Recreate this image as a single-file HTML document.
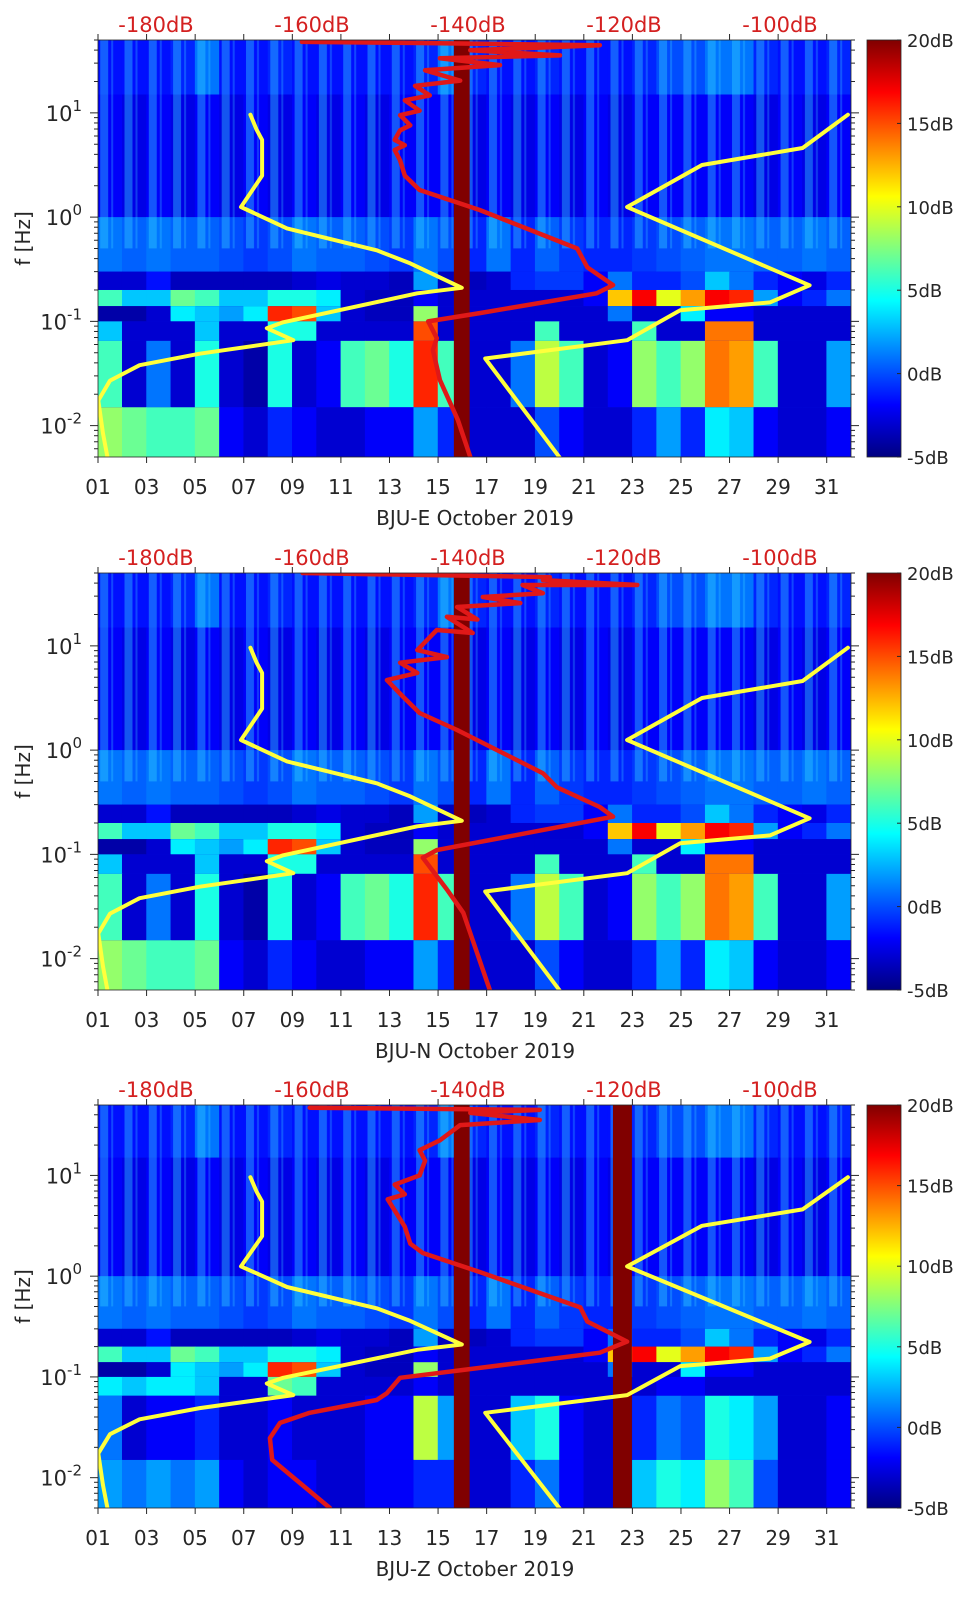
<!DOCTYPE html>
<html><head><meta charset="utf-8">
<style>
html,body{margin:0;padding:0;background:#fff;}
svg{display:block;font-family:"DejaVu Sans","Liberation Sans",sans-serif;}
</style></head>
<body>
<svg id="fig" width="962" height="1599" viewBox="0 0 962 1599" xmlns="http://www.w3.org/2000/svg">
<defs>
<linearGradient id="jetGrad" x1="0" y1="1" x2="0" y2="0">
<stop offset="0" stop-color="#000080"/><stop offset="0.125" stop-color="#0000ff"/>
<stop offset="0.375" stop-color="#00ffff"/><stop offset="0.625" stop-color="#ffff00"/>
<stop offset="0.875" stop-color="#ff0000"/><stop offset="1" stop-color="#800000"/>
</linearGradient>
<pattern id="streaks" patternUnits="userSpaceOnUse" width="24.3" height="10">
<rect x="3" y="0" width="8" height="10" fill="#30d0ff" opacity="0.45"/>
<rect x="14" y="0" width="2" height="10" fill="#40e0ff" opacity="0.3"/>
</pattern>
</defs>
</svg>
<script>
// ---- data ----
const days = [1,2,3,4,5,6,7,8,9,10,11,12,13,14,15,16,17,18,19,20,21,22,23,24,25,26,27,28,29,30,31];
const bandLow  = [1.176, 0, -0.523, -0.699, -0.854, -1, -1.187, -1.824, -2.301]; // log10 f lower edges
const bandHigh = [1.699, 1.176, 0, -0.523, -0.699, -0.854, -1, -1.187, -1.824];
const b1 = [-1.5,-1.5,-1.5,-1,1,-1.5,-1.5,-1,-1.5,-1.5,-1.5,-1.5,-1.5,-1,1,-1,-1.5,-1.5,-1,-1.5,-1.5,-1.5,-1,0,0,1,1,-1,-1.5,-1.5,-1];
const b2 = [-2,-2.5,-2,-2.5,-2,-2.5,-2,-2.5,-2,-2.5,-2,-2.5,-2,-2,-2,-2.5,-2,-2.5,-2,-2.5,-2,-2.5,-2,-2,-2,-2,-2,-2.5,-2,-2.5,-2];
const b3 = [1,0.5,1,0.5,0.5,0,-0.5,0,1,0.5,0.5,0,-0.5,1,0,-1,1,-1,0.5,-0.5,-1,-1,-0.5,0,0.5,1,1,0.5,0.5,1,0.5];
const b4 = [-3,-3,-1.5,-3.5,-3.5,-3.5,-3.5,-3.5,-3,-2.5,-3,-3,-3.5,2,-3.5,-3.5,-3,-1,-0.5,-0.5,-2,1,-1,-1,0,3,1,-1,-2,-2.5,-1];
const b5 = [6,3,3,7,6,3,3,5,5,4,-3,-3.5,-3.5,-2,-3,-3,-3,-3,-3,-3,-2,12,17,10,13,17,16,2,-2,-1,1];
const b6 = [-4,-4,-3,4,3,2,4,16,15,3,-3,-3.5,-3.5,8,-3,-3,-3,-3,-3,-3,-3,1,-3,-3,4,-2,-2,-3,-3,-3,-3];
const b7 = [3,-3,-3,-3,3,-3,-3,5,5,-3,-3,-3,-3,15,-3,-3,-3,-3,6,-3,-3,-3,6,-3,-3,14,14,-3,-3,-3,-3];
const b8 = [6,-3,1,-3,5,-3,-4,5,-3,-2,6,7,5,16,6,-3,-3,1,9,6,-3,-2,8,6,8,14,13,6,-3,-3,2];
const b9 = [8,7,6,6,7,-2,-3,-1,-2,-3,-3,-2,-2,2,-1,-3,-3,-3,0,-2,-3,-3,-1,2,-1,4,3,-2,-3,-3,-2];
const z7 = [4,3,4,4,3,-3,-3,7,6,-3,-3,-3,-3,-2,-3,-3,-3,-3,-3,-3,-3,-3,-3,-2,-2,-3,-3,-3,-3,-3,-3];
const z8 = [1,-3,-2,-2,-1,-3,-3,-2,-3,-3,-3,-2,-2,9,2,-3,-3,3,5,-2,-3,-3,-1,1,0,5,4,2,-3,-3,-2];
const z9 = [2,1,2,1,2,-2,-3,-2,-2,-3,-3,-2,-2,-1,-1,-3,-3,-1,1,-2,-3,-3,3,5,4,8,6,0,-3,-3,-2];
const gapsEN = [[15.65,16.3]];
const gapsZ  = [[15.65,16.3],[22.2,22.98]];
// noise models: frequency (Hz) and power (dB)
const nlnmF  = [9.6,6.9,5.5,2.5,1.25,0.78,0.48,0.36,0.21,0.186,0.098,0.086,0.066,0.049,0.038,0.027,0.0174,0.0084,0.0049];
const nlnmDB = [-167.9,-167.1,-166.4,-166.4,-169.1,-163.2,-151.7,-147.4,-140.8,-146.5,-163.7,-165.8,-162.4,-174.4,-182.1,-185.9,-187.4,-186.8,-186.2];
const nhnmF  = [9.6,4.6,3.16,1.25,0.222,0.152,0.128,0.066,0.044,0.0049];
const nhnmDB = [-91.3,-97.1,-110.0,-119.6,-96.2,-101.3,-112.8,-119.6,-137.8,-128.2];
// station PSD curves
const psdEF  = [0.005,0.0113,0.0274,0.053,0.069,0.1,0.12,0.186,0.223,0.33,0.5,1.17,1.82,2.5,3.5,4.4,4.9,5.5,6.8,7.6,9.5,10.5,13.2,14.7,18.2,20.4,25.6,28.7,33.4,35.6,39.8,44.6,46.8,47.9];
const psdEDB = [-139.7,-141.3,-143.6,-144.5,-144.0,-145.1,-138.5,-123.5,-121.4,-124.7,-126.0,-138.5,-146.2,-148.1,-148.7,-149.4,-148.1,-149.4,-148.7,-147.4,-148.7,-146.2,-148.1,-144.9,-146.8,-141.0,-145.5,-135.9,-143.6,-128.2,-139.7,-123.1,-146.2,-161.3];
const psdNF  = [0.005,0.0275,0.046,0.093,0.11,0.23,0.285,0.44,0.60,1.56,2.27,3.23,4.7,5.5,6.9,7.8,9.1,14.2,13.3,19,17.9,23.6,25.7,29.4,32,38.4,38.4,42.7,45.7,50];
const psdNDB = [-137.2,-140.6,-142.7,-145.8,-144.0,-121.4,-123.1,-128.6,-130.4,-141.4,-146.2,-148.3,-150.4,-146.5,-148.7,-142.7,-146.5,-144.0,-139.4,-142.7,-138.8,-141.4,-133.3,-138.1,-130.4,-133.0,-118.3,-130.4,-129.5,-161.2];
const psdZF  = [0.005,0.015,0.0247,0.035,0.044,0.059,0.069,0.098,0.123,0.174,0.224,0.355,0.49,1.1,1.7,2.1,3.1,5.8,6.5,8.1,10,14,17.8,22.3,31.6,35.5,41.7,44.7,47];
const psdZDB = [-157.7,-165.1,-165.4,-164.1,-160.3,-151.7,-150.4,-148.7,-138.5,-123.1,-119.6,-124.7,-125.6,-138.5,-145.8,-147.4,-148.1,-150.3,-148.1,-149.4,-146.2,-145.5,-146.2,-143.6,-141.0,-130.8,-139.7,-130.8,-160.3];
const dbTicks = [-180,-160,-140,-120,-100];
const dayTicks = [1,3,5,7,9,11,13,15,17,19,21,23,25,27,29,31];
const cbTicks = [20,15,10,5,0,-5];
const titles = ["BJU-E October 2019","BJU-N October 2019","BJU-Z October 2019"];

// ---- layout ----
const NS = "http://www.w3.org/2000/svg";
const svg = document.getElementById('fig');
const PL = 98, PR = 851, CBX = 867, CBW = 34;
const panels = [
  {top:40, h:417, bands:[b1,b2,b3,b4,b5,b6,b7,b8,b9], gaps:gapsEN, pf:psdEF, pd:psdEDB},
  {top:573, h:417, bands:[b1,b2,b3,b4,b5,b6,b7,b8,b9], gaps:gapsEN, pf:psdNF, pd:psdNDB},
  {top:1105, h:403, bands:[b1,b2,b3,b4,b5,b6,z7,z8,z9], gaps:gapsZ, pf:psdZF, pd:psdZDB}
];
const LOGTOP = Math.log10(50), LOGBOT = Math.log10(0.005);
function xDay(d){ return PL + (d-1)*(PR-PL)/31; }
function xDB(db){ return 156 + (db+180)*7.8; }
function yLog(p,lf){ return p.top + (LOGTOP-lf)/(LOGTOP-LOGBOT)*p.h; }
function yF(p,f){ return yLog(p, Math.log10(f)); }
function jet(v){
  let t=(v+5)/25; t=Math.max(0,Math.min(1,t));
  const c=x=>Math.round(255*Math.max(0,Math.min(1,x)));
  return `rgb(${c(1.5-Math.abs(4*t-3))},${c(1.5-Math.abs(4*t-2))},${c(1.5-Math.abs(4*t-1))})`;
}
function mk(tag, attrs, parent){
  const e=document.createElementNS(NS,tag);
  for(const k in attrs) e.setAttribute(k,attrs[k]);
  (parent||svg).appendChild(e); return e;
}
function txt(s, attrs, parent){ const e=mk('text',attrs,parent); e.textContent=s; return e; }

panels.forEach((p,pi)=>{
  const g = mk('g',{});
  
  
  const clipId='clip'+pi;
  const cp=mk('clipPath',{id:clipId},g); mk('rect',{x:PL,y:p.top,width:PR-PL,height:p.h},cp);
  const hm = mk('g',{'clip-path':`url(#${clipId})`},g);
  
  
  mk('rect',{x:PL,y:p.top,width:PR-PL,height:p.h,fill:'#0010e0'},hm);
  p.bands.forEach((arr,bi)=>{
    const y1=yLog(p,bandHigh[bi]), y2=yLog(p,bandLow[bi]);
    days.forEach((d,di)=>{
      const r=mk('rect',{x:xDay(d)-0.3,y:y1,width:(PR-PL)/31+0.6,height:y2-y1,fill:jet(arr[di])},hm);
      
      
    });
  });
  const sy1=yLog(p,LOGTOP), sy2=yLog(p,-0.3);
  mk('rect',{x:PL,y:sy1,width:PR-PL,height:sy2-sy1,fill:'url(#streaks)',opacity:0.9},hm);
  p.gaps.forEach(gp=>{
    const r=mk('rect',{x:xDay(gp[0]),y:p.top,width:xDay(gp[1])-xDay(gp[0]),height:p.h,fill:'#800000'},hm);
    
    
  });
  function line(F,D,color,w,name){
    const pts=F.map((f,i)=>xDB(D[i]).toFixed(1)+','+yF(p,f).toFixed(1)).join(' ');
    const l=mk('polyline',{points:pts,fill:'none',stroke:color,'stroke-width':w,'stroke-linejoin':'round','stroke-linecap':'round'},hm);
    
    
  }
  line(nlnmF,nlnmDB,'#ffff3c',4,'nlnm-curve');
  line(nhnmF,nhnmDB,'#ffff3c',4,'nhnm-curve');
  line(p.pf,p.pd,'#e01818',4.5,'station-psd-curve');
  mk('rect',{x:PL,y:p.top,width:PR-PL,height:p.h,fill:'none',stroke:'#262626','stroke-width':0.8},g);
  dayTicks.forEach(d=>{
    const x=xDay(d);
    mk('line',{x1:x,y1:p.top+p.h,x2:x,y2:p.top+p.h+6,stroke:'#262626','stroke-width':1},g);
    mk('line',{x1:x,y1:p.top,x2:x,y2:p.top-6,stroke:'#262626','stroke-width':1},g);
    const t=txt(String(d).padStart(2,'0'),{x:x,y:p.top+p.h+37,'text-anchor':'middle','font-size':20,fill:'#262626'},g);
    
    
  });
  dbTicks.forEach(db=>{
    const t=txt(db+'dB',{x:xDB(db),y:p.top-8,'text-anchor':'middle','font-size':21,fill:'#d42020'},g);
    
    
  });
  for(let e=-3;e<=1;e++){
    for(let m=1;m<=9;m++){
      const lf=e+Math.log10(m);
      if(lf<LOGBOT-1e-6||lf>LOGTOP+1e-6) continue;
      const y=yLog(p,lf), len=m===1?8:4;
      mk('line',{x1:PL,y1:y,x2:PL-len,y2:y,stroke:'#262626','stroke-width':1},g);
      mk('line',{x1:PR,y1:y,x2:PR+len,y2:y,stroke:'#262626','stroke-width':1},g);
    }
    if(e>=-2){
      const y=yLog(p,e);
      const t=mk('text',{x:82,y:y+8,'text-anchor':'end','font-size':21,fill:'#262626'},g);
      
      
      const a=document.createElementNS(NS,'tspan'); a.textContent='10'; t.appendChild(a);
      const b=document.createElementNS(NS,'tspan'); b.setAttribute('dy','-10'); b.setAttribute('font-size','15'); b.textContent=String(e); t.appendChild(b);
    }
  }
  const yt=txt('f [Hz]',{x:0,y:0,'text-anchor':'middle','font-size':20,fill:'#262626',transform:`translate(30,${p.top+p.h/2-10}) rotate(-90)`},g);
  
  
  const tt=txt(titles[pi],{x:475,y:p.top+p.h+68,'text-anchor':'middle','font-size':20,fill:'#262626'},g);
  
  
  const cb=mk('rect',{x:CBX,y:p.top,width:CBW,height:p.h,fill:'url(#jetGrad)',stroke:'#262626','stroke-width':0.8},g);
  
  
  cbTicks.forEach(v=>{
    const y=p.top+(20-v)/25*p.h;
    mk('line',{x1:CBX+CBW-4,y1:y,x2:CBX+CBW,y2:y,stroke:'#262626','stroke-width':1},g);
    const t=txt(v+'dB',{x:CBX+CBW+6,y:y+7,'font-size':18,fill:'#262626'},g);
    
    
  });
});
</script>
</body></html>
